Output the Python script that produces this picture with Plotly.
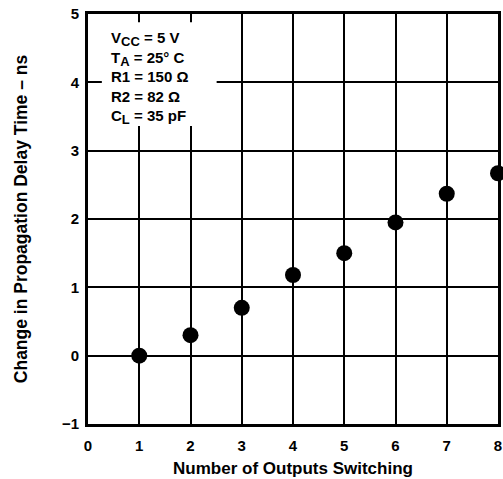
import plotly.graph_objects as go

outputs_switching = [1, 2, 3, 4, 5, 6, 7, 8]
delay_change_ns = [0.0, 0.30, 0.70, 1.18, 1.50, 1.95, 2.37, 2.67]
x_ticks = [0, 1, 2, 3, 4, 5, 6, 7, 8]
y_ticks = [-1, 0, 1, 2, 3, 4, 5]
SUB = '<sub><span style="font-size:13px">{}</span></sub>'
conditions = ["V" + SUB.format("CC") + " = 5 V", "T" + SUB.format("A") + " = 25° C",
              "R1 = 150 Ω", "R2 = 82 Ω", "C" + SUB.format("L") + " = 35 pF"]

FONT = "Liberation Sans, Arial, sans-serif"

fig = go.Figure()
fig.add_trace(go.Scatter(
    x=outputs_switching, y=delay_change_ns, mode="markers",
    marker=dict(color="black", size=16, line=dict(width=0)),
    cliponaxis=False, showlegend=False,
))

fig.update_layout(
    width=503, height=479,
    margin=dict(l=88, r=2, t=14, b=55),
    paper_bgcolor="white", plot_bgcolor="white",
    font=dict(family=FONT, color="black"),
    xaxis=dict(
        range=[0, 8], tickvals=x_ticks, ticktext=[str(v) for v in x_ticks],
        showgrid=True, gridcolor="black", gridwidth=1.5,
        showline=True, linecolor="black", linewidth=3, mirror=True,
        ticks="outside", ticklen=6, tickcolor="rgba(0,0,0,0)",
        tickfont=dict(size=15, family=FONT, weight="bold"),
        zeroline=False,
        title=dict(text="<b>Number of Outputs Switching</b>", font=dict(size=17, family=FONT), standoff=10),
    ),
    yaxis=dict(
        range=[-1, 5], tickvals=y_ticks, ticktext=["−1"] + [str(v) for v in y_ticks[1:]],
        showgrid=True, gridcolor="black", gridwidth=1.5,
        showline=True, linecolor="black", linewidth=3, mirror=True,
        ticks="outside", ticklen=3, tickcolor="rgba(0,0,0,0)",
        tickfont=dict(size=15, family=FONT, weight="bold"),
        zeroline=False,
        title=dict(text="<b>Change in Propagation Delay Time – ns</b>", font=dict(size=17.5, family=FONT), standoff=30),
    ),
)

# white panel behind the conditions text
fig.add_shape(type="rect", xref="x", yref="y", x0=0.27, x1=2.51, y0=3.36, y1=4.88,
              fillcolor="white", line=dict(width=0), layer="between")

fig.add_annotation(
    xref="x", yref="y", x=0.42, y=4.79, xanchor="left", yanchor="top",
    text="<br>".join(conditions),
    align="left", showarrow=False, borderpad=0,
    font=dict(size=15, family=FONT, weight="bold", color="black"),
)

fig.write_html("out.html")
